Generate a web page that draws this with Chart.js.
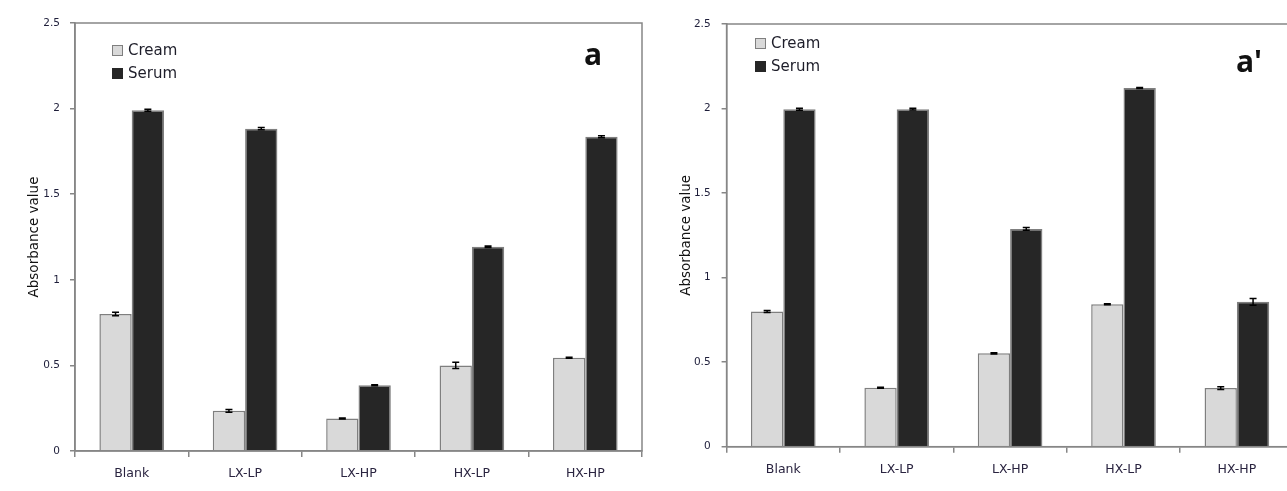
<!DOCTYPE html>
<html>
<head>
<meta charset="utf-8">
<script src="https://cdn.jsdelivr.net/npm/chart.js@4/dist/chart.umd.min.js"></script>
<style>
  html, body { margin: 0; padding: 0; background: #fff; width: 1287px; height: 491px; overflow: hidden; }
  body { position: relative; font-family: "DejaVu Sans", sans-serif; color: #1e1e2a; }
  canvas { position: absolute; top: 0; }
  #chartA { left: 0; }
  #chartB { left: 650px; }
  .legend { position: absolute; font-size: 15px; line-height: 23px; }
  .legend .row { display: flex; align-items: center; height: 23px; }
  .legend .box { width: 11px; height: 11px; margin-right: 5px; box-sizing: border-box; }
  .tag { position: absolute; font-family: "Open Sans", sans-serif; font-weight: 700; font-size: 30px; color: #111; }
</style>
</head>
<body>
<canvas id="chartA" width="645" height="491"></canvas>
<canvas id="chartB" width="660" height="491"></canvas>
<div class="legend" id="legendA" style="left:112px; top:39px;"></div>
<div class="legend" id="legendB" style="left:755px; top:32px;"></div>
<div class="tag" style="left:584px; top:33px;">a</div>
<div class="tag" style="left:1236px; top:40px;">a'</div>
<script>
const categories = ['Blank', 'LX-LP', 'LX-HP', 'HX-LP', 'HX-HP'];
const seriesNames = ['Cream', 'Serum'];
const yTicks = [0, 0.5, 1, 1.5, 2, 2.5];

// panel a
const creamA = [0.80, 0.235, 0.19, 0.50, 0.545];
const serumA = [1.99, 1.883, 0.384, 1.193, 1.836];
const creamErrA = [0.01, 0.008, 0.003, 0.018, 0.003];
const serumErrA = [0.006, 0.006, 0.003, 0.005, 0.006];

// panel a'
const creamB = [0.80, 0.349, 0.552, 0.843, 0.347];
const serumB = [1.996, 1.996, 1.288, 2.122, 0.857];
const creamErrB = [0.006, 0.003, 0.003, 0.003, 0.008];
const serumErrB = [0.006, 0.005, 0.008, 0.003, 0.02];

const CREAM_FILL = '#d9d9d9';
const SERUM_FILL = '#262626';
const AXIS_GRAY = '#868686';
const BAR_EDGE = '#7f7f7f';

const errorBars = {
  id: 'errorBars',
  afterDatasetsDraw(chart) {
    const { ctx } = chart;
    const y = chart.scales.y;
    ctx.save();
    ctx.strokeStyle = '#000';
    ctx.lineWidth = 1.5;
    chart.data.datasets.forEach((ds, di) => {
      const meta = chart.getDatasetMeta(di);
      meta.data.forEach((bar, i) => {
        const v = ds.data[i];
        const e = ds.errors[i];
        const top = y.getPixelForValue(v + e);
        const bot = y.getPixelForValue(v - e);
        ctx.beginPath();
        ctx.moveTo(bar.x, top); ctx.lineTo(bar.x, bot);
        ctx.moveTo(bar.x - 3.5, top); ctx.lineTo(bar.x + 3.5, top);
        ctx.moveTo(bar.x - 3.5, bot); ctx.lineTo(bar.x + 3.5, bot);
        ctx.stroke();
      });
    });
    ctx.restore();
  }
};

const frame = {
  id: 'frame',
  afterDraw(chart) {
    const { ctx, chartArea: a } = chart;
    ctx.save();
    ctx.strokeStyle = AXIS_GRAY;
    ctx.lineWidth = 1.5;
    ctx.strokeRect(a.left, a.top, a.right - a.left, a.bottom - a.top);
    ctx.restore();
  }
};

function makePanel(canvasId, cream, serum, creamErr, serumErr, geo) {
  return new Chart(document.getElementById(canvasId), {
    type: 'bar',
    data: {
      labels: categories,
      datasets: [
        { label: seriesNames[0], data: cream, errors: creamErr, backgroundColor: CREAM_FILL, borderColor: BAR_EDGE, borderWidth: 1.5 },
        { label: seriesNames[1], data: serum, errors: serumErr, backgroundColor: SERUM_FILL, borderColor: BAR_EDGE, borderWidth: 1.5 }
      ]
    },
    options: {
      responsive: false,
      devicePixelRatio: 1,
      animation: false,
      datasets: { bar: { categoryPercentage: 0.57, barPercentage: 1 } },
      layout: { padding: { left: 0, top: geo.top, right: geo.right, bottom: 0 } },
      plugins: { legend: { display: false }, tooltip: { enabled: false } },
      scales: {
        x: {
          grid: { drawOnChartArea: false, tickLength: 6, color: AXIS_GRAY, lineWidth: 1.5 },
          border: { color: AXIS_GRAY, width: 1.5 },
          ticks: { color: '#2a2440', font: { family: 'DejaVu Sans', size: 12.5 }, padding: geo.xPad },
          afterFit(scale) { scale.height = geo.xHeight; }
        },
        y: {
          min: 0,
          max: 2.5,
          afterBuildTicks(scale) { scale.ticks = yTicks.map((v) => ({ value: v })); },
          grid: { drawOnChartArea: false, tickLength: 5, color: AXIS_GRAY, lineWidth: 1.5 },
          border: { color: AXIS_GRAY, width: 1.5 },
          ticks: {
            color: '#1e1e3a',
            font: { family: 'DejaVu Sans', size: 10.5 },
            padding: geo.yPad,
            callback: (value) => String(value)
          },
          title: {
            display: true,
            text: 'Absorbance value',
            color: '#111',
            font: { family: 'DejaVu Sans', size: 13.5 },
            padding: { top: geo.titlePad, bottom: 0 }
          },
          afterFit(scale) { scale.width = geo.yWidth; }
        }
      }
    },
    plugins: [errorBars, frame]
  });
}

makePanel('chartA', creamA, serumA, creamErrA, serumErrA,
  { top: 23, right: 3, xHeight: 40, yWidth: 75, yPad: 10, xPad: 9, titlePad: 26 });
makePanel('chartB', creamB, serumB, creamErrB, serumErrB,
  { top: 24, right: 16.4, xHeight: 44.3, yWidth: 76.6, yPad: 11, xPad: 10, titlePad: 28 });

function buildLegend(id) {
  const fills = [CREAM_FILL, SERUM_FILL];
  document.getElementById(id).innerHTML = seriesNames
    .map((name, i) => `<div class="row"><span class="box" style="background:${fills[i]};border:1.5px solid ${i ? SERUM_FILL : BAR_EDGE}"></span>${name}</div>`)
    .join('');
}
buildLegend('legendA');
buildLegend('legendB');
</script>
</body>
</html>
